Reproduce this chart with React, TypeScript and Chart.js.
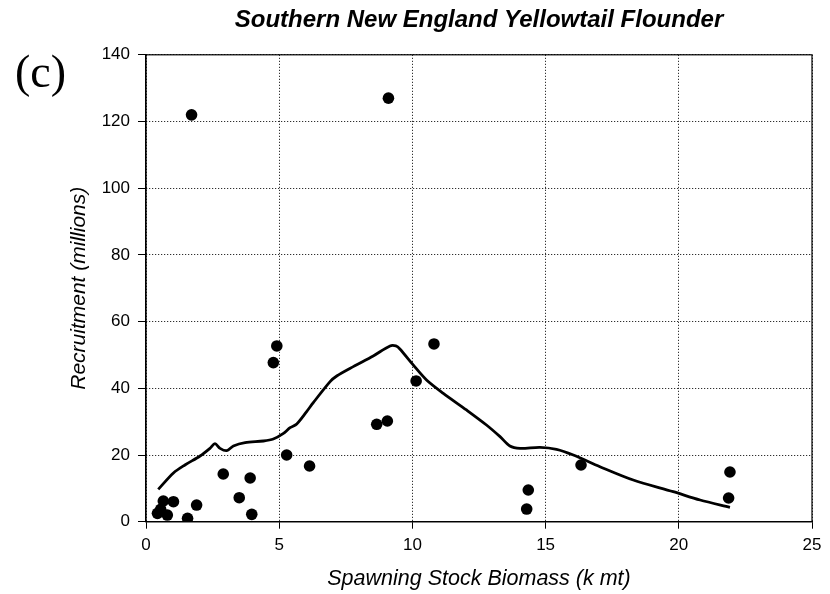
import React, { useEffect, useRef } from "react";
import { Chart, registerables } from "chart.js";

Chart.register(...registerables);

// Observed stock-recruitment points
const ssbObs = [0.43, 0.55, 0.65, 0.8, 1.03, 1.56, 1.71, 1.9, 2.9, 3.5, 3.91, 3.97, 4.78, 4.91, 5.28, 6.14, 8.66, 9.06, 9.1, 10.14, 10.81, 14.29, 14.35, 16.33, 21.87, 21.92];
const recObs = [2.5, 3.7, 6.2, 2.0, 6.0, 1.0, 122, 5.0, 14.3, 7.2, 13.1, 2.2, 47.7, 52.7, 20.0, 16.7, 29.2, 30.2, 127, 42.2, 53.3, 3.8, 9.5, 17.0, 7.1, 14.9];

// Smoothed fit line
const ssbFit = [0.46, 1.03, 1.46, 2.03, 2.4, 2.59, 2.78, 3.03, 3.28, 3.72, 4.41, 4.78, 5.16, 5.41, 5.66, 6.03, 6.28, 6.91, 7.16, 7.78, 8.53, 9.16, 9.38, 9.53, 10.03, 10.53, 11.16, 12.03, 12.78, 13.29, 13.66, 14.04, 14.79, 15.41, 16.04, 17.04, 18.29, 19.79, 20.8, 21.92];
const recFit = [9.7, 14.6, 17.0, 19.7, 22.0, 23.4, 22.0, 21.3, 22.7, 23.7, 24.2, 24.8, 26.5, 28.2, 29.3, 33.0, 35.7, 42.0, 43.7, 46.5, 49.7, 52.7, 52.7, 51.8, 47.0, 42.5, 38.5, 33.5, 29.0, 25.5, 22.7, 22.0, 22.3, 21.7, 20.0, 16.5, 12.5, 9.0, 6.5, 4.3];

const titleText = "Southern New England Yellowtail Flounder";
const xTitle = "Spawning Stock Biomass (k mt)";
const yTitle = "Recruitment (millions)";
const panelLabel = "(c)";
const xMin = 0, xMax = 25, xStep = 5;
const yMin = 0, yMax = 140, yStep = 20;

const SANS = "'Liberation Sans', Arial, sans-serif";

const boxPlugin = {
  id: "plotBox",
  afterDatasetsDraw(chart: any) {
    const { ctx, chartArea } = chart;
    ctx.save();
    ctx.strokeStyle = "#000";
    ctx.lineWidth = 1.2;
    ctx.strokeRect(chartArea.left, chartArea.top, chartArea.right - chartArea.left, chartArea.bottom - chartArea.top);
    ctx.restore();
  },
};

export default function App() {
  const ref = useRef<HTMLCanvasElement>(null);
  useEffect(() => {
    if (!ref.current) return;
    const chart = new Chart(ref.current, {
      type: "scatter",
      data: {
        datasets: [
          {
            type: "line",
            data: ssbFit.map((x, i) => ({ x, y: recFit[i] })),
            showLine: true,
            borderColor: "#000",
            borderWidth: 2.8,
            pointRadius: 0,
            tension: 0.3,
            fill: false,
          } as any,
          {
            type: "scatter",
            data: ssbObs.map((x, i) => ({ x, y: recObs[i] })),
            pointRadius: 5.8,
            backgroundColor: "#000",
            borderWidth: 0,
          },
        ],
      },
      options: {
        animation: false,
        responsive: false,
        layout: { padding: { top: 0, right: 18, bottom: 0, left: 0 } },
        plugins: {
          legend: { display: false },
          tooltip: { enabled: false },
          title: {
            display: true,
            text: titleText,
            fullSize: false,
            color: "#000",
            font: { family: SANS, size: 24, weight: "bold", style: "italic" },
            padding: { top: 6, bottom: 20 },
          },
        },
        scales: {
          x: {
            type: "linear",
            min: xMin,
            max: xMax,
            afterFit: (s: any) => { s.height = 72.3; },
            ticks: { stepSize: xStep, color: "#000", padding: 6.5, font: { family: SANS, size: 17 } },
            grid: { color: "#000", lineWidth: 1, tickLength: 7, tickColor: "#000", tickBorderDash: [] },
            border: { display: true, color: "#000", width: 1.2, dash: [1, 2] },
            title: {
              display: true,
              text: xTitle,
              color: "#000",
              font: { family: SANS, size: 21.5, style: "italic" },
              padding: { top: 0, bottom: 2.2 },
            },
          },
          y: {
            type: "linear",
            min: yMin,
            max: yMax,
            afterFit: (s: any) => { s.width = 146; },
            ticks: { stepSize: yStep, color: "#000", padding: 8, font: { family: SANS, size: 17 } },
            grid: { color: "#000", lineWidth: 1, tickLength: 8, tickColor: "#000", tickBorderDash: [] },
            border: { display: true, color: "#000", width: 1.2, dash: [1, 2] },
            title: {
              display: true,
              text: yTitle,
              color: "#000",
              font: { family: SANS, size: 21, style: "italic" },
              padding: { top: 67, bottom: 0 },
            },
          },
        },
      },
      plugins: [boxPlugin],
    });
    return () => chart.destroy();
  }, []);

  return (
    <div style={{ position: "absolute", left: 0, top: 0, width: 830, height: 594, background: "#fff" }}>
      <canvas ref={ref} width={830} height={594} style={{ display: "block" }} />
      <span
        style={{
          position: "absolute",
          left: 15,
          top: 49,
          fontFamily: "'Liberation Serif', 'Times New Roman', serif",
          fontSize: 46,
          lineHeight: 1,
          color: "#000",
        }}
      >
        {panelLabel}
      </span>
    </div>
  );
}
